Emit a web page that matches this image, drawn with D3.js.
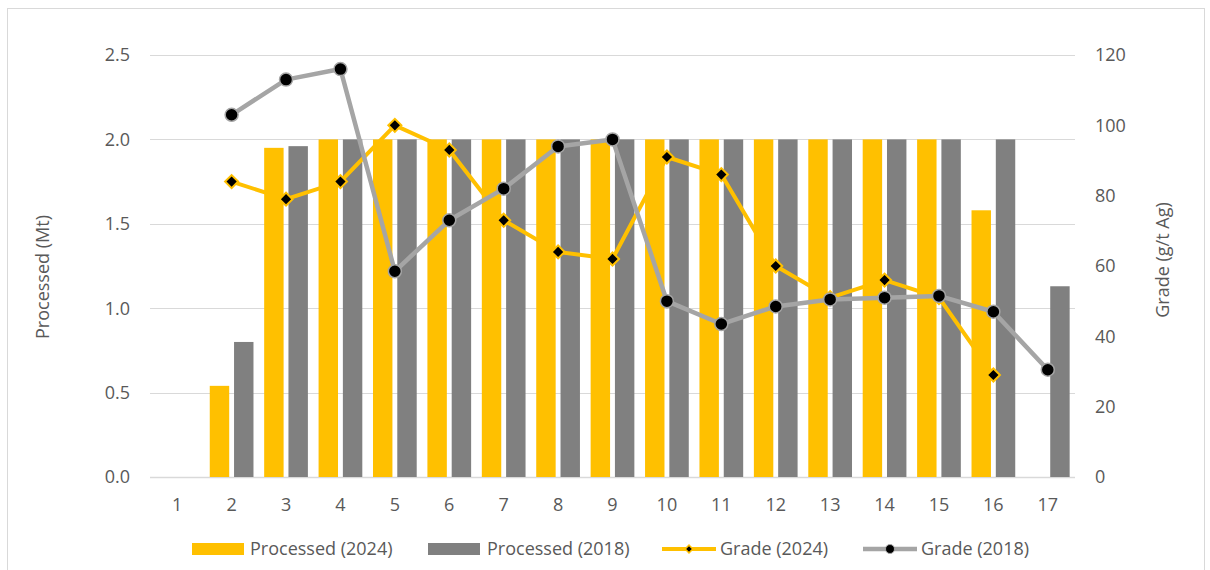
<!DOCTYPE html>
<html>
<head>
<meta charset="utf-8">
<script src="https://cdn.jsdelivr.net/npm/d3@7"></script>
<style>
  body { margin: 0; background: #fff; }
  svg text { font-family: "Open Sans", "Noto Sans", sans-serif; fill: #595959; font-size: 18px; }
</style>
</head>
<body>
<svg id="chart" width="1210" height="570"></svg>
<script>
// data
var periods = ['1','2','3','4','5','6','7','8','9','10','11','12','13','14','15','16','17'];
var processed2024 = [null, 0.54, 1.95, 2.0, 2.0, 2.0, 2.0, 2.0, 2.0, 2.0, 2.0, 2.0, 2.0, 2.0, 2.0, 1.58, null];
var processed2018 = [null, 0.80, 1.96, 2.0, 2.0, 2.0, 2.0, 2.0, 2.0, 2.0, 2.0, 2.0, 2.0, 2.0, 2.0, 2.0, 1.13];
var grade2024 = [null, 84, 79, 84, 100, 93, 73, 64, 62, 91, 86, 60, 51, 56, 51, 29, null];
var grade2018 = [null, 103, 113, 116, 58.5, 73, 82, 94, 96, 50, 43.5, 48.5, 50.5, 51, 51.5, 47, 30.5];
var leftTicks = [0, 0.5, 1.0, 1.5, 2.0, 2.5];
var rightTicks = [0, 20, 40, 60, 80, 100, 120];

var yellow = '#FFC000', darkGray = '#808080', lineGray = '#A5A5A5', gridCol = '#D9D9D9';

var svg = d3.select('#chart');

// chart border
svg.append('rect')
  .attr('x', 7.5).attr('y', 8.5)
  .attr('width', 1197).attr('height', 580)
  .attr('fill', 'none').attr('stroke', gridCol);

var x0 = d3.scaleBand().domain(periods).range([150, 1075]);
var x1 = d3.scaleBand().domain(['2024','2018']).range([0, x0.bandwidth()])
  .paddingInner(0.2).paddingOuter(0.22);
var yL = d3.scaleLinear().domain([0, 2.5]).range([477, 55]);
var yR = d3.scaleLinear().domain([0, 120]).range([477, 55]);

// gridlines
svg.append('g').selectAll('line').data(leftTicks).join('line')
  .attr('x1', 150).attr('x2', 1075)
  .attr('y1', function(d){ return Math.round(yL(d)) + 0.5; })
  .attr('y2', function(d){ return Math.round(yL(d)) + 0.5; })
  .attr('stroke', gridCol).attr('stroke-width', function(d){ return d === 0 ? 1.5 : 1; });

// left axis labels
svg.append('g').selectAll('text').data(leftTicks).join('text')
  .attr('x', 130).attr('y', function(d){ return yL(d); })
  .attr('dy', '0.35em').attr('text-anchor', 'end')
  .text(function(d){ return d3.format('.1f')(d); });

// right axis labels
svg.append('g').selectAll('text').data(rightTicks).join('text')
  .attr('x', 1095).attr('y', function(d){ return yR(d); })
  .attr('dy', '0.35em').attr('text-anchor', 'start')
  .text(function(d){ return d; });

// x labels
svg.append('g').selectAll('text').data(periods).join('text')
  .attr('x', function(d){ return x0(d) + x0.bandwidth() / 2; })
  .attr('y', 505).attr('dy', '0.35em').attr('text-anchor', 'middle')
  .text(function(d){ return d; });

// axis titles
svg.append('text')
  .attr('transform', 'translate(43,277) rotate(-90)')
  .attr('text-anchor', 'middle').attr('dy', '0.35em')
  .text('Processed (Mt)');
svg.append('text')
  .attr('transform', 'translate(1163,260) rotate(-90)')
  .attr('text-anchor', 'middle').attr('dy', '0.35em')
  .text('Grade (g/t Ag)');

// bars
var barData = [];
periods.forEach(function(p, i) {
  if (processed2024[i] != null) barData.push({p: p, k: '2024', v: processed2024[i]});
  if (processed2018[i] != null) barData.push({p: p, k: '2018', v: processed2018[i]});
});
svg.append('g').selectAll('rect').data(barData).join('rect')
  .attr('x', function(d){ return x0(d.p) + x1(d.k); })
  .attr('y', function(d){ return yL(d.v); })
  .attr('width', x1.bandwidth())
  .attr('height', function(d){ return yL(0) - yL(d.v); })
  .attr('fill', function(d){ return d.k === '2024' ? yellow : darkGray; });

function cx(i) { return x0(periods[i]) + x0.bandwidth() / 2; }

function drawLine(vals, color, width) {
  var line = d3.line()
    .defined(function(d){ return d != null; })
    .x(function(d, i){ return cx(i); })
    .y(function(d){ return yR(d); });
  svg.append('path').datum(vals)
    .attr('d', line)
    .attr('fill', 'none').attr('stroke', color)
    .attr('stroke-width', width).attr('stroke-linejoin', 'round');
}

var diamond = d3.symbol().type(d3.symbolSquare).size(85);

// Grade 2024
drawLine(grade2024, yellow, 4);
svg.append('g').selectAll('path')
  .data(grade2024.map(function(v, i){ return {v: v, i: i}; }).filter(function(d){ return d.v != null; }))
  .join('path')
  .attr('d', diamond)
  .attr('transform', function(d){ return 'translate(' + cx(d.i) + ',' + yR(d.v) + ') rotate(45)'; })
  .attr('fill', '#000').attr('stroke', yellow).attr('stroke-width', 2);

// Grade 2018
drawLine(grade2018, lineGray, 4.5);
svg.append('g').selectAll('circle')
  .data(grade2018.map(function(v, i){ return {v: v, i: i}; }).filter(function(d){ return d.v != null; }))
  .join('circle')
  .attr('cx', function(d){ return cx(d.i); })
  .attr('cy', function(d){ return yR(d.v); })
  .attr('r', 6.5)
  .attr('fill', '#000').attr('stroke', lineGray).attr('stroke-width', 1.5);

// legend
var legend = svg.append('g');
var ly = 549;
legend.append('rect').attr('x', 192).attr('y', ly - 6).attr('width', 52).attr('height', 12).attr('fill', yellow);
legend.append('text').attr('x', 250).attr('y', ly).attr('dy', '0.35em').text('Processed (2024)');
legend.append('rect').attr('x', 428).attr('y', ly - 6).attr('width', 52).attr('height', 12).attr('fill', darkGray);
legend.append('text').attr('x', 487).attr('y', ly).attr('dy', '0.35em').text('Processed (2018)');

legend.append('line').attr('x1', 662).attr('x2', 716).attr('y1', ly).attr('y2', ly)
  .attr('stroke', yellow).attr('stroke-width', 4);
legend.append('path').attr('d', d3.symbol().type(d3.symbolSquare).size(30))
  .attr('transform', 'translate(689,' + ly + ') rotate(45)')
  .attr('fill', '#000').attr('stroke', yellow).attr('stroke-width', 1.5);
legend.append('text').attr('x', 720).attr('y', ly).attr('dy', '0.35em').text('Grade (2024)');

legend.append('line').attr('x1', 863).attr('x2', 917).attr('y1', ly).attr('y2', ly)
  .attr('stroke', lineGray).attr('stroke-width', 4.5);
legend.append('circle').attr('cx', 890).attr('cy', ly).attr('r', 4.5)
  .attr('fill', '#000').attr('stroke', lineGray).attr('stroke-width', 1);
legend.append('text').attr('x', 921).attr('y', ly).attr('dy', '0.35em').text('Grade (2018)');
</script>
</body>
</html>
